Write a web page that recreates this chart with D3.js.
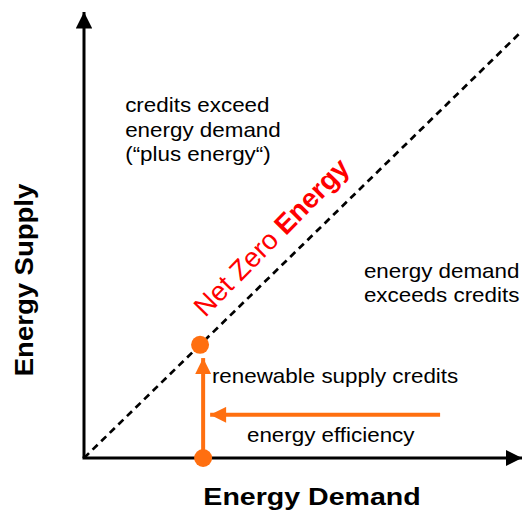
<!DOCTYPE html>
<html lang="en">
  <head>
    <meta charset="UTF-8" />
    <title>Net Zero Energy</title>
    <script src="https://d3js.org/d3.v7.min.js"></script>
    <style>
      body { margin: 0; background: #fff; }
      text { font-family: "Liberation Sans", Arial, sans-serif; }
      .label { font-size: 20px; fill: #000; }
      .axis-title { font-size: 24px; font-weight: bold; fill: #000; }
    </style>
  </head>
  <body>
    <svg width="522" height="512"></svg>
    <script>
      // values in "demand / supply" units, 0..10 on both axes
      const netZeroLine = [[0, 0], [10, 10]];
      const points = [
        { name: "start", demand: 2.72, supply: 0 },
        { name: "netzero", demand: 2.65, supply: 2.65 },
      ];
      const efficiency = { from: [8.13, 1.01], to: [2.88, 1.01] };
      const renewable = { from: [2.72, 0.1], to: [2.72, 2.34] };
      const regionLabels = [
        { lines: ["credits exceed", "energy demand", "(\u201cplus energy\u201c)"], x: 0.94, y: 8.1 },
        { lines: ["energy demand", "exceeds credits"], x: 6.39, y: 4.22 },
        { lines: ["renewable supply credits"], x: 2.92, y: 1.76 },
        { lines: ["energy efficiency"], x: 3.72, y: 0.37 },
      ];

      const orange = "#ff6f10";
      const stretch = 1.12;

      const svg = d3.select("svg");
      const x = d3.scaleLinear().domain([0, 10]).range([84, 522]);
      const y = d3.scaleLinear().domain([0, 10]).range([458, 31]);

      const defs = svg.append("defs");
      defs.append("marker")
        .attr("id", "blackHead")
        .attr("viewBox", "0 0 10 10")
        .attr("refX", 10).attr("refY", 5)
        .attr("markerWidth", 5.5).attr("markerHeight", 5.5)
        .attr("markerUnits", "strokeWidth")
        .attr("orient", "auto")
        .append("path").attr("d", "M0,0L10,5L0,10Z").attr("fill", "#000");
      defs.append("marker")
        .attr("id", "orangeHead")
        .attr("viewBox", "0 0 10 10")
        .attr("refX", 10).attr("refY", 5)
        .attr("markerWidth", 4.2).attr("markerHeight", 4)
        .attr("markerUnits", "strokeWidth")
        .attr("orient", "auto")
        .append("path").attr("d", "M0,0L10,5L0,10Z").attr("fill", orange);

      // dashed net zero diagonal
      const line = d3.line().x((d) => x(d[0])).y((d) => y(d[1]));
      svg.append("path")
        .datum(netZeroLine)
        .attr("d", line)
        .attr("fill", "none")
        .attr("stroke", "#000")
        .attr("stroke-width", 2.7)
        .attr("stroke-dasharray", "7,5");

      // axes
      svg.append("line")
        .attr("x1", x(0)).attr("y1", y(0))
        .attr("x2", x(0)).attr("y2", 12)
        .attr("stroke", "#000").attr("stroke-width", 3)
        .attr("marker-end", "url(#blackHead)");
      svg.append("line")
        .attr("x1", x(0) - 1.5).attr("y1", y(0))
        .attr("x2", 522).attr("y2", y(0))
        .attr("stroke", "#000").attr("stroke-width", 3)
        .attr("marker-end", "url(#blackHead)");

      // orange arrows
      [renewable, efficiency].forEach((a) => {
        svg.append("line")
          .attr("x1", x(a.from[0])).attr("y1", y(a.from[1]))
          .attr("x2", x(a.to[0])).attr("y2", y(a.to[1]))
          .attr("stroke", orange).attr("stroke-width", 4)
          .attr("marker-end", "url(#orangeHead)");
      });

      svg.selectAll("circle.pt")
        .data(points)
        .enter()
        .append("circle")
        .attr("class", "pt")
        .attr("cx", (d) => x(d.demand))
        .attr("cy", (d) => y(d.supply))
        .attr("r", 9)
        .attr("fill", orange);

      // region labels (slightly wide face, like the original)
      regionLabels.forEach((l) => {
        const t = svg.append("text")
          .attr("class", "label")
          .attr("transform", `translate(${x(l.x)},${y(l.y)}) scale(${stretch},1)`);
        l.lines.forEach((s, i) => {
          t.append("tspan")
            .attr("x", 0)
            .attr("dy", i === 0 ? 0 : 24.5)
            .text(s);
        });
      });

      // rotated Net Zero Energy label
      const nz = svg.append("text")
        .attr("transform", `translate(${x(2.77)},${y(3.28)}) rotate(-45.5)`)
        .attr("fill", "#ff0000")
        .style("font-size", "27.5px");
      nz.append("tspan").text("Net Zero ");
      nz.append("tspan").style("font-weight", "bold").text("Energy");

      // axis titles
      svg.append("text")
        .attr("class", "axis-title")
        .attr("transform", `translate(312,505) scale(1.19,1)`)
        .attr("text-anchor", "middle")
        .text("Energy Demand");
      svg.append("text")
        .attr("class", "axis-title")
        .attr("transform", `translate(33,280) rotate(-90) scale(1.1,1)`)
        .attr("text-anchor", "middle")
        .style("font-size", "25px")
        .text("Energy Supply");
    </script>
  </body>
</html>
